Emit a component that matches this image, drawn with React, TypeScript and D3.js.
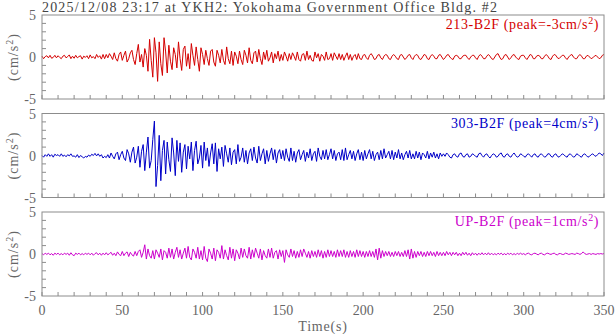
import React from "react";
import * as d3 from "d3";

const title = "2025/12/08 23:17 at YKH2: Yokohama Government Office Bldg. #2";
const xTicks = d3.range(0, 351, 10);
const xLabels = [0, 50, 100, 150, 200, 250, 300, 350];
const yMinor = [-4, -3, -2, -1, 1, 2, 3, 4];
const yLabels = [5, 0, -5];

// acceleration samples, 1 s step, 0..350 s
const s213 = [
  0.1,-0.2,0.05,0.15,-0.1,0.2,-0.15,-0.05,0.2,-0.1,
  0.15,-0.05,-0.2,0.1,0.2,-0.1,0.05,0.25,-0.2,0.1,
  -0.15,0.2,-0.1,0.05,0.15,-0.25,0.1,-0.05,0.15,-0.2,
  0.25,-0.1,0.05,-0.2,0.3,-0.05,0.15,-0.25,0.3,-0.2,
  0.3,-0.1,0.4,0.1,-0.3,0.5,-0.2,-0.5,0.3,0.6,
  -0.4,0.2,0.7,-0.6,-0.2,0.5,0.8,-0.3,-0.9,0.4,
  1.5,-0.6,0.3,-1.2,1.0,0.2,-1.7,2.1,-0.4,-2.4,
  2.3,0.5,-2.9,1.8,-0.8,-2.2,2.3,0.6,-1.9,1.4,
  -0.5,-1.5,1.1,0.3,-1.3,1.8,-0.2,-1.6,0.9,1.3,
  -1.1,0.4,-1.4,1.6,0.2,-1.0,1.2,-0.3,-1.7,1.1,
  0.3,-0.9,0.8,-0.2,-1.0,0.7,0.9,-0.6,-1.1,0.8,
  0.2,-0.7,0.9,-0.4,-0.9,1.2,-0.2,-0.8,0.7,-1.0,
  0.6,0.1,-0.8,0.7,-0.3,-0.9,0.8,0.2,-0.7,1.1,
  -0.4,-0.8,0.5,0.7,-0.6,0.9,-0.2,-0.9,0.6,-0.3,
  0.8,-0.5,-0.1,0.6,-0.7,0.4,-0.2,0.7,-0.5,0.3,
  -0.4,0.6,0.1,-0.5,0.4,-0.3,0.5,0.1,-0.4,0.6,
  -0.3,-0.5,0.3,0.4,-0.4,0.7,-0.3,0.2,-0.4,-0.5,
  0.6,-0.1,0.4,-0.5,0.3,0.1,-0.4,0.6,-0.3,-0.2,
  0.4,-0.4,0.5,0.1,-0.3,0.4,-0.3,0.3,-0.4,0.1,
  0.5,-0.3,0.3,-0.4,0.1,0.3,-0.3,0.4,-0.2,-0.3,
  0.2,0.3,-0.1,-0.3,0.2,0.4,0.1,-0.3,-0.2,0.2,
  0.3,-0.1,-0.3,0.1,0.3,0.2,-0.2,-0.3,0.1,0.3,
  0.1,-0.2,-0.3,0.2,0.3,0.0,-0.3,-0.1,0.2,0.3,
  -0.1,-0.3,0.1,0.3,0.2,-0.2,-0.3,0.0,0.3,0.2,
  -0.2,-0.3,0.1,0.3,0.1,-0.2,-0.2,0.2,0.3,0.0,
  -0.3,-0.1,0.2,0.3,0.0,-0.2,-0.3,0.1,0.2,0.1,
  -0.2,-0.2,0.1,0.2,0.2,-0.1,-0.3,0.0,0.2,0.2,
  -0.1,-0.3,0.1,0.3,0.1,-0.2,-0.2,0.1,0.3,0.1,
  -0.2,-0.3,0.0,0.3,0.4,0.0,-0.3,-0.2,0.2,0.3,
  0.0,-0.3,-0.1,0.2,0.3,0.0,-0.2,-0.3,0.1,0.2,
  0.2,-0.1,-0.3,0.0,0.3,0.2,-0.2,-0.2,0.1,0.2,
  0.1,-0.2,-0.2,0.1,0.3,0.1,-0.2,-0.3,0.1,0.3,
  0.2,-0.1,-0.2,0.0,0.2,0.2,-0.1,-0.3,0.0,0.2,
  0.3,0.0,-0.2,-0.2,0.1,0.3,0.1,-0.2,-0.2,0.1,
  0.2,0.0,-0.2,-0.1,0.1,0.2,0.0,-0.2,-0.1,0.2,
  0.3,
];

const s303 = [
  0.0,-0.2,0.1,-0.1,0.2,-0.1,0.1,-0.2,0.15,0.0,
  0.1,-0.1,0.2,-0.1,0.05,-0.15,0.1,-0.05,0.2,-0.1,
  -0.05,-0.2,0.1,-0.25,0.0,-0.15,-0.3,-0.1,-0.2,0.05,
  -0.1,0.15,0.0,0.25,-0.05,0.2,-0.1,0.1,-0.3,-0.1,
  -0.25,0.1,-0.3,0.3,-0.1,-0.4,0.2,0.4,-0.5,0.1,
  0.5,-0.3,-0.6,0.7,0.2,-0.8,0.4,1.0,-0.9,-0.2,
  1.1,-1.4,0.5,1.3,-1.8,0.4,2.2,-1.5,-0.6,1.9,
  4.1,-3.7,-1.2,2.4,-3.0,0.6,1.8,-2.2,1.6,-0.5,
  -1.9,2.1,0.3,-2.4,1.8,-0.7,1.5,-2.0,0.4,1.3,
  -1.6,1.1,-0.4,1.6,-1.8,0.6,1.7,-1.0,-0.3,1.2,
  -1.5,1.6,-0.6,0.9,-1.3,0.3,1.4,-1.0,1.5,-1.9,
  0.8,-0.4,1.0,-1.3,1.2,0.2,-0.8,0.9,-1.1,0.4,
  0.7,-1.0,1.3,-0.7,-0.2,0.9,-0.8,0.6,-1.0,0.3,
  0.8,-0.6,1.0,-0.3,-0.9,1.1,-0.6,0.2,0.8,-1.0,
  0.6,-0.7,0.2,0.9,-0.5,0.7,-0.9,0.3,0.7,-0.4,
  0.6,-0.6,0.8,-0.2,-0.7,0.9,-0.6,0.5,-0.8,0.3,
  0.7,-0.5,0.1,0.6,-0.7,0.4,-0.3,0.8,-0.6,0.2,
  0.5,-0.7,0.9,-0.1,-0.5,0.6,-0.4,0.7,-0.5,0.1,
  0.8,-0.4,0.6,-0.6,0.2,0.4,-0.5,0.7,-0.6,0.9,
  -0.5,0.1,0.6,-0.4,0.5,-0.6,0.2,0.7,-0.5,0.4,
  -0.6,0.6,-0.4,0.2,0.7,-0.4,0.5,-0.6,0.1,0.4,
  -0.5,0.6,-0.4,0.8,-0.3,0.1,0.5,-0.4,0.6,-0.5,
  0.4,-0.3,0.7,-0.4,0.3,-0.5,0.1,0.5,-0.3,0.6,
  -0.4,0.2,-0.4,0.5,-0.3,0.4,-0.5,0.3,0.1,-0.3,
  0.5,-0.4,0.3,-0.2,0.4,-0.3,0.2,-0.4,0.3,-0.1,
  0.2,-0.1,0.3,0.1,-0.2,-0.3,0.1,0.2,-0.1,-0.2,
  0.2,0.3,-0.1,-0.2,0.1,0.2,-0.2,-0.1,0.2,0.1,
  -0.1,-0.2,0.2,0.3,0.0,-0.2,0.1,0.2,-0.1,-0.3,
  0.0,0.2,0.1,-0.2,-0.1,0.2,0.3,-0.1,-0.2,0.1,
  0.2,-0.1,-0.2,0.1,0.3,0.0,-0.2,-0.1,0.2,0.1,
  -0.1,-0.2,0.1,0.2,0.0,-0.2,0.1,0.2,-0.1,-0.2,
  0.1,0.2,0.0,-0.2,-0.1,0.2,0.2,-0.1,-0.2,0.1,
  0.2,-0.1,-0.2,0.0,0.2,0.1,-0.1,-0.2,0.1,0.2,
  0.0,-0.2,-0.1,0.2,0.1,-0.1,-0.2,0.1,0.2,0.0,
  -0.2,-0.1,0.1,0.2,0.0,-0.1,0.1,0.3,0.2,0.0,
  0.3,
];

const sUP = [
  0.05,-0.1,0.1,-0.05,0.1,-0.1,0.05,-0.15,0.1,-0.05,
  0.1,-0.1,0.05,-0.1,0.1,-0.05,0.1,-0.15,0.15,-0.1,
  -0.2,0.1,-0.05,0.1,-0.1,0.05,-0.1,0.1,-0.05,0.1,
  -0.1,0.1,-0.15,0.05,0.15,-0.1,0.1,-0.15,0.1,-0.1,
  0.15,-0.1,0.05,0.2,-0.15,0.1,-0.2,0.25,-0.05,-0.2,
  0.3,-0.2,0.1,0.25,-0.3,0.2,-0.1,-0.25,0.3,-0.2,
  0.3,0.5,-0.4,0.2,1.1,-0.6,0.6,-0.2,-0.5,0.4,
  -0.6,0.5,0.1,-0.4,0.6,-0.7,0.4,0.2,-0.5,0.7,
  -0.4,0.6,-0.6,0.2,0.8,-0.4,0.5,-0.6,0.1,0.7,
  -0.5,0.9,-0.4,-0.7,0.6,0.2,-0.5,0.8,-0.6,0.4,
  -0.7,0.9,-0.5,-0.9,0.6,0.1,-0.6,0.7,-0.8,0.5,
  0.2,-0.5,1.0,-0.6,0.5,-0.2,-0.7,0.8,-0.5,0.6,
  -0.8,0.5,0.1,-0.6,0.7,-0.4,0.6,-0.2,-0.5,0.8,
  -0.6,0.5,-0.4,0.7,0.1,-0.5,0.6,-0.7,0.4,-0.2,
  -0.5,0.6,-0.4,0.7,-0.5,0.2,0.4,-0.6,0.5,-0.3,
  0.4,-1.0,0.5,-0.1,-0.4,0.6,-0.3,0.4,-0.5,0.3,
  -0.4,0.5,-0.3,0.6,0.1,-0.4,0.3,-0.5,0.4,-0.3,
  0.3,-0.4,0.5,-0.3,0.4,-0.5,0.3,-0.4,0.5,-0.3,
  0.4,-0.3,0.3,-0.4,0.5,-0.3,0.4,-0.3,0.5,-0.4,
  0.3,-0.4,0.4,-0.3,0.3,-0.4,0.5,-0.3,0.4,-0.3,
  0.3,-0.4,0.3,-0.3,0.4,-0.3,0.3,-0.4,0.6,-0.7,
  0.7,-0.5,0.4,-0.3,0.3,-0.2,0.3,-0.3,0.2,-0.3,
  0.3,-0.2,0.3,-0.3,0.2,-0.3,0.4,-0.3,0.5,-0.6,
  0.6,-0.5,0.3,-0.4,0.3,-0.2,0.3,-0.3,0.2,-0.3,
  0.3,-0.2,0.3,-0.2,0.2,-0.3,0.3,-0.2,0.2,-0.2,
  0.2,-0.2,0.3,-0.1,0.2,-0.2,0.2,-0.1,0.2,-0.2,
  0.1,-0.2,0.2,-0.1,0.2,-0.15,0.1,-0.2,0.15,-0.1,
  0.1,-0.15,0.1,-0.1,0.15,-0.1,0.1,-0.1,0.15,-0.1,
  0.1,-0.1,0.05,-0.1,0.1,-0.05,0.1,-0.1,0.05,-0.1,
  0.1,-0.05,0.1,-0.1,0.05,-0.1,0.1,-0.05,0.1,-0.05,
  0.05,-0.1,0.05,0.1,-0.05,-0.1,0.05,0.1,0.0,-0.1,
  0.05,0.1,-0.05,-0.1,0.05,0.1,0.0,-0.05,0.05,0.1,
  -0.05,-0.1,0.05,0.05,-0.05,-0.05,0.1,0.05,-0.05,0.0,
  0.05,0.0,-0.05,0.1,0.05,-0.05,0.05,0.25,0.05,-0.05,
  0.0,0.05,-0.05,0.05,0.0,-0.05,0.05,0.0,0.05,0.0,
  0.05,
];

const channels = ["213-B2F", "303-B2F", "UP-B2F"];
const peaks = ["-3", "4", "1"];
const colors = ["#d40000", "#0000c8", "#cc00cc"];
const series = [s213, s303, sUP];

const W = 616;
const H = 334;
const left = 42;
const right = 604;
const panelTops = [15, 113.5, 212];
const panelH = 84;
const font = "'Liberation Serif', 'DejaVu Serif', serif";
const grey = "#8c8c8c";

const x = d3.scaleLinear().domain([0, 350]).range([left, right]);

function Panel({ idx }: { idx: number }) {
  const top = panelTops[idx];
  const y = d3.scaleLinear().domain([-5, 5]).range([top + panelH, top]);
  const line = d3
    .line<number>()
    .x((_, i) => x(i))
    .y((d) => y(d));
  const bottom = top + panelH;
  return (
    <g>
      <path d={line(series[idx]) || ""} fill="none" stroke={colors[idx]} strokeWidth={1} />
      <rect x={left} y={top} width={right - left} height={panelH} fill="none" stroke={grey} strokeWidth={1} />
      {xTicks.map((t) => (
        <line key={"x" + t} x1={x(t)} x2={x(t)} y1={bottom} y2={bottom - 4} stroke={grey} />
      ))}
      {yMinor.map((t) => (
        <line key={"y" + t} x1={left} x2={left + 4} y1={y(t)} y2={y(t)} stroke={grey} />
      ))}
      {yLabels.map((t) => (
        <text key={"l" + t} x={36} y={y(t) + 5} textAnchor="end" fontSize={14} fill="#666" fontFamily={font}>
          {t}
        </text>
      ))}
      <text
        transform={`translate(18,${top + panelH / 2}) rotate(-90)`}
        textAnchor="middle"
        fontSize={14}
        fill="#666"
        fontFamily={font}
        letterSpacing={1}
      >
        (cm/s<tspan dy={-5} fontSize={10}>2</tspan>
        <tspan dy={5}>)</tspan>
      </text>
      <text x={599} y={top + 14} textAnchor="end" fontSize={14} fill={colors[idx]} fontFamily={font} letterSpacing={0.6}>
        {channels[idx]} (peak={peaks[idx]}cm/s<tspan dy={-5} fontSize={10}>2</tspan>
        <tspan dy={5}>)</tspan>
      </text>
    </g>
  );
}

export default function App() {
  const lastBottom = panelTops[2] + panelH;
  return (
    <svg width={W} height={H} style={{ position: "absolute", left: 0, top: 0, background: "#fff" }}>
      <text x={42} y={12} fontSize={14} fill="#444" fontFamily={font} textLength={455} lengthAdjust="spacing">
        {title}
      </text>
      {[0, 1, 2].map((i) => (
        <Panel key={i} idx={i} />
      ))}
      {xLabels.map((t) => (
        <text key={t} x={x(t)} y={lastBottom + 19} textAnchor="middle" fontSize={14} fill="#666" fontFamily={font}>
          {t}
        </text>
      ))}
      <text x={(left + right) / 2} y={H - 3} textAnchor="middle" fontSize={14} fill="#666" fontFamily={font} letterSpacing={0.8}>
        Time(s)
      </text>
    </svg>
  );
}
